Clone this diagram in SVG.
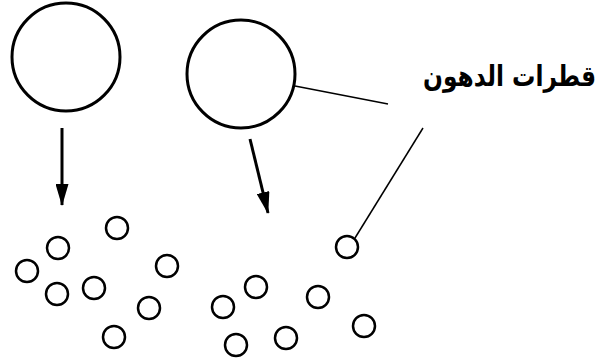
<svg xmlns="http://www.w3.org/2000/svg" width="598" height="362" viewBox="0 0 598 362">
<style>
.big{fill:none;stroke:#000;stroke-width:3}
.drop{fill:none;stroke:#000;stroke-width:2.5}
.arr{stroke:#000;stroke-width:3;fill:none}
.lead{stroke:#000;stroke-width:1.5;fill:none}
.lbl{font-family:"DejaVu Sans","Liberation Sans",Arial,sans-serif;font-weight:bold;font-size:29px;fill:#000}
</style>
<defs>
<marker id="ah" markerUnits="userSpaceOnUse" markerWidth="22" markerHeight="13" refX="21" refY="6.5" orient="auto" viewBox="0 0 22 13">
<path d="M0,0 L22,6.5 L0,13 Z" fill="#000"/>
</marker>
</defs>
<rect width="598" height="362" fill="#fff"/>
<g id="drop-large-1"><circle class="big" cx="66" cy="57" r="54"/></g>
<g id="drop-large-2"><circle class="big" cx="241" cy="74" r="54"/></g>
<g id="label"><text class="lbl" x="596" y="86" text-anchor="end" textLength="173" lengthAdjust="spacingAndGlyphs">قطرات الدهون</text></g>
<g id="drops-small-1">
<circle class="drop" cx="117" cy="228" r="11"/>
<circle class="drop" cx="58" cy="248" r="11"/>
<circle class="drop" cx="27" cy="271" r="11"/>
<circle class="drop" cx="57" cy="294" r="11"/>
<circle class="drop" cx="94" cy="288" r="11"/>
<circle class="drop" cx="167" cy="266" r="11"/>
<circle class="drop" cx="149" cy="308" r="11"/>
<circle class="drop" cx="114" cy="337" r="11"/>
</g>
<g id="drops-small-2">
<circle class="drop" cx="223" cy="307" r="11"/>
<circle class="drop" cx="256" cy="287" r="11"/>
<circle class="drop" cx="318" cy="297" r="11"/>
<circle class="drop" cx="364" cy="326" r="11"/>
<circle class="drop" cx="286" cy="338" r="11"/>
<circle class="drop" cx="236" cy="345" r="11"/>
</g>
<g id="drop-labelled"><circle class="drop" cx="347" cy="247" r="11"/></g>
<g id="connectors">
<line class="arr" x1="62" y1="128" x2="62" y2="205" marker-end="url(#ah)"/>
<line class="arr" x1="250" y1="139" x2="268" y2="213" marker-end="url(#ah)"/>
<line class="lead" x1="295" y1="86" x2="388" y2="104"/>
<line class="lead" x1="423" y1="128" x2="355" y2="238"/>
</g>
</svg>
